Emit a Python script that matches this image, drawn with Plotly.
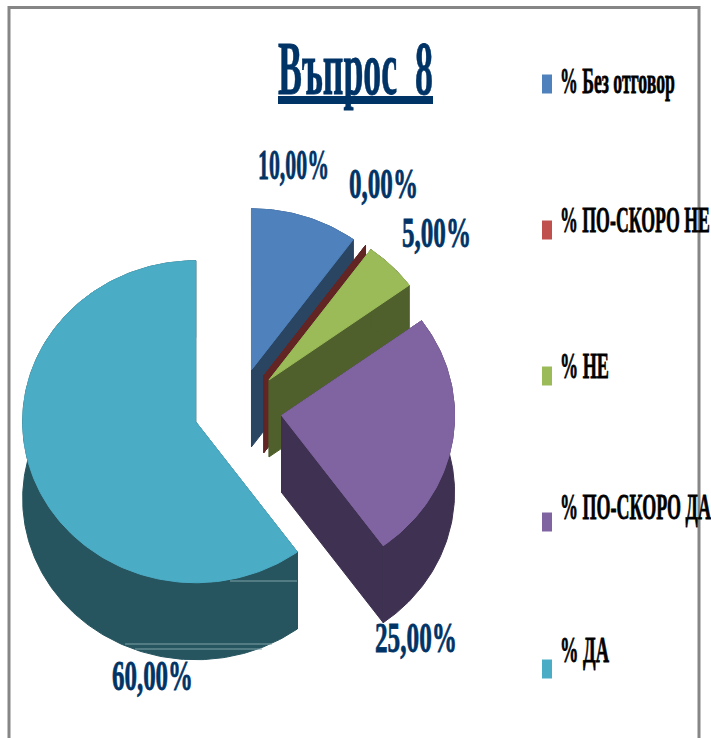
import json
import numpy as np
import plotly.graph_objects as go

# ---- data ----
categories = ["% Без отговор", "% ПО-СКОРО НЕ", "% НЕ", "% ПО-СКОРО ДА", "% ДА"]
values = [10.0, 0.0, 5.0, 25.0, 60.0]
title_text = "Въпрос\u00a0\u00a08"

# ---- style ----
top_colors = ["#4F81BD", "#C0504D", "#9BBB59", "#8064A2", "#4BACC6"]
wall_colors = ["#2A4562", "#632523", "#4F602D", "#3F3151", "#26555F"]
NAVY = "#003366"
FONT = "Liberation Serif"
W, H = 711, 738

# pie geometry (in page pixels, y downwards)
CX, CY = 237.8, 409.0
RX, RY = 173.0, 161.0
DEPTH = 77.0
EXPLODE = 44.3
STEPS_PER_DEG = 1


def rim(ax, ay, t0, t1):
    n = max(2, int(abs(t1 - t0) * STEPS_PER_DEG) + 1)
    t = np.radians(np.linspace(t0, t1, n))
    return ax + RX * np.sin(t), ay - RY * np.cos(t)


def poly(fig, xs, ys, color):
    fig.add_trace(go.Scatter(x=list(xs), y=list(ys), mode="lines", fill="toself",
                             fillcolor=color, line=dict(color=color, width=1),
                             hoverinfo="skip", showlegend=False))


fig = go.Figure()
total = sum(values)
start = 0.0
for name, v, top, wall in zip(categories, values, top_colors, wall_colors):
    sweep = v / total * 360.0
    end = start + sweep
    mid = np.radians((start + end) / 2)
    ax = CX + EXPLODE * np.sin(mid)
    ay = CY - EXPLODE * np.cos(mid) * RY / RX
    rx_, ry_ = rim(ax, ay, start, end)
    # cut faces
    for edge in (start, end):
        ex, ey = rim(ax, ay, edge, edge)
        poly(fig, [ax, ex[0], ex[0], ax, ax], [ay, ey[0], ey[0] + DEPTH, ay + DEPTH, ay], wall)
    # outer wall
    if sweep > 0:
        poly(fig, np.r_[rx_, rx_[::-1], rx_[0]], np.r_[ry_, ry_[::-1] + DEPTH, ry_[0]], wall)
        # top face
        poly(fig, np.r_[ax, rx_, ax], np.r_[ay, ry_, ay], top)
    start = end

pct_labels = [f"{v:.2f}".replace(".", ",") + "%" for v in values]
# left x, centre y, target width
label_pos = [(258, 164, 71), (349, 183.5, 69), (402, 232.5, 69), (375, 637.5, 82), (112, 675.5, 81)]
legend_pos = [(560, 81, 115), (560, 220, 150), (560, 366, 49), (560, 507, 151), (560, 650, 49)]
legend_marker_y = [84, 230, 376, 522, 669]

ann = []
widths = []


def add_text(text, x, y, w, size, color):
    ann.append(dict(x=x, y=y, xref="x", yref="y", text=text, showarrow=False, xanchor="left",
                    yanchor="middle", align="left", borderpad=0, borderwidth=0,
                    font=dict(family=FONT, size=size, color=color, weight="bold")))
    widths.append(w)


add_text(title_text, 278, 67.5, 155, 76, NAVY)
for t, (x, y, w) in zip(pct_labels, label_pos):
    add_text(t, x, y, w, 43, NAVY)
for t, (x, y, w) in zip(categories, legend_pos):
    add_text(t, x, y, w, 36, "#000000")

shapes = [
    # frame
    dict(type="rect", x0=9, x1=699, y0=7.5, y1=780, line=dict(color="#868686", width=3),
         layer="below"),
    # title underline
    dict(type="rect", x0=278, x1=433, y0=96, y1=104, fillcolor=NAVY, line=dict(width=0)),
    # hairlines on the dark wall
    dict(type="line", x0=230, x1=297, y0=581, y1=581, line=dict(color="#7FA3AA", width=1)),
    dict(type="line", x0=125, x1=272, y0=644, y1=644, line=dict(color="#7FA3AA", width=1)),
    dict(type="line", x0=135, x1=262, y0=649, y1=649, line=dict(color="#7FA3AA", width=1)),
]
for c, y in zip(top_colors, legend_marker_y):
    shapes.append(dict(type="rect", x0=542, x1=552, y0=y - 9.5, y1=y + 9.5,
                       fillcolor=c, line=dict(width=0)))

fig.update_layout(
    width=W, height=H, margin=dict(l=0, r=0, t=0, b=0),
    paper_bgcolor="white", plot_bgcolor="white", showlegend=False,
    xaxis=dict(range=[0, W], visible=False, fixedrange=True),
    yaxis=dict(range=[H, 0], visible=False, fixedrange=True),
    annotations=ann, shapes=shapes,
)

squeeze_js = """
document.documentElement.style.margin = '0';
document.body.style.margin = '0';
document.body.style.overflow = 'hidden';
var widths = %s;
document.querySelectorAll('.annotation-text-g').forEach(function (g, i) {
  var el = g.querySelector('.annotation-text');
  var bg = g.querySelector('rect.bg');
  if (el && widths[i]) {
    var s = widths[i] / el.getComputedTextLength();
    var x = parseFloat(el.getAttribute('x')) || 0;
    el.setAttribute('transform', 'matrix(' + s + ' 0 0 1 ' + (x * (1 - s)) + ' 0)');
    el.style.stroke = el.style.fill;
    el.style.strokeWidth = '0.8px';
  }
  if (bg && widths[i]) { bg.setAttribute('width', widths[i]); }
});
""" % json.dumps(widths)

fig.write_html("out.html", post_script=squeeze_js,
               config=dict(displayModeBar=False, staticPlot=True))
